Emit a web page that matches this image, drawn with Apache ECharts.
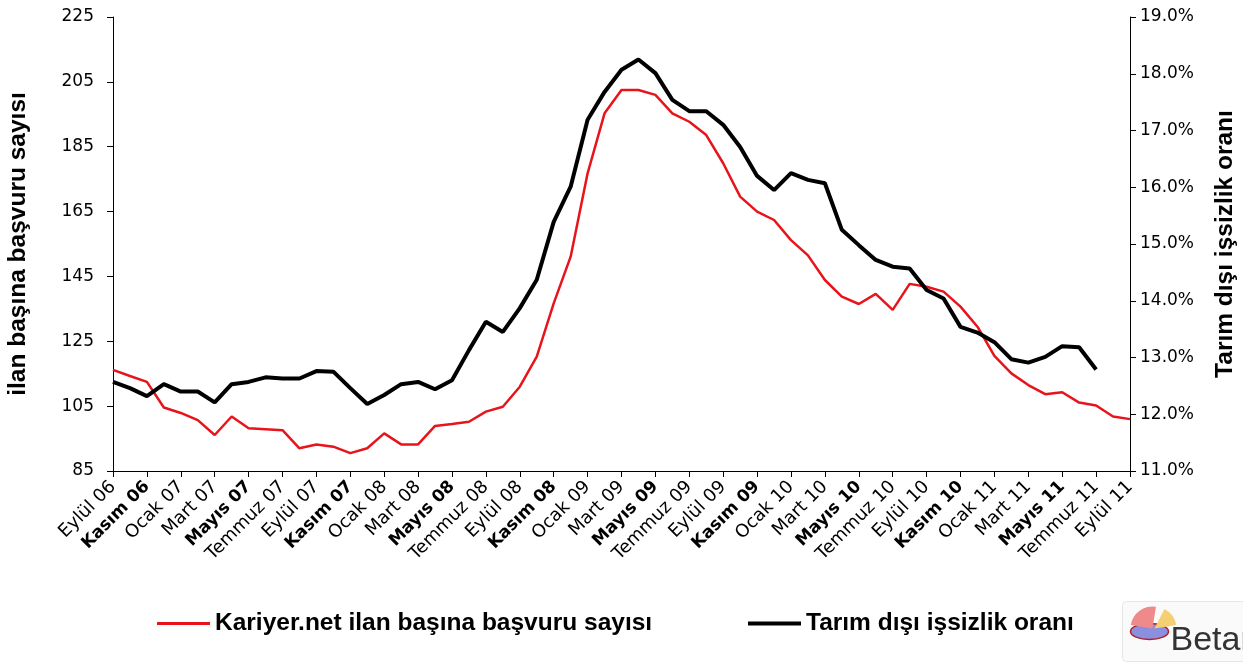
<!DOCTYPE html>
<html>
<head>
<meta charset="utf-8">
<script src="https://cdn.jsdelivr.net/npm/echarts@6/dist/echarts.min.js"></script>
<style>
  html, body { margin: 0; padding: 0; background: #fff; }
  #chart { width: 1243px; height: 662px; }
</style>
</head>
<body>
<div id="chart"></div>
<script>
// months, Eylül 06 .. Eylül 11
const months = [
    'Eylül 06', 'Ekim 06', 'Kasım 06', 'Aralık 06',
    'Ocak 07', 'Şubat 07', 'Mart 07', 'Nisan 07', 'Mayıs 07', 'Haziran 07', 'Temmuz 07', 'Ağustos 07', 'Eylül 07', 'Ekim 07', 'Kasım 07', 'Aralık 07',
    'Ocak 08', 'Şubat 08', 'Mart 08', 'Nisan 08', 'Mayıs 08', 'Haziran 08', 'Temmuz 08', 'Ağustos 08', 'Eylül 08', 'Ekim 08', 'Kasım 08', 'Aralık 08',
    'Ocak 09', 'Şubat 09', 'Mart 09', 'Nisan 09', 'Mayıs 09', 'Haziran 09', 'Temmuz 09', 'Ağustos 09', 'Eylül 09', 'Ekim 09', 'Kasım 09', 'Aralık 09',
    'Ocak 10', 'Şubat 10', 'Mart 10', 'Nisan 10', 'Mayıs 10', 'Haziran 10', 'Temmuz 10', 'Ağustos 10', 'Eylül 10', 'Ekim 10', 'Kasım 10', 'Aralık 10',
    'Ocak 11', 'Şubat 11', 'Mart 11', 'Nisan 11', 'Mayıs 11', 'Haziran 11', 'Temmuz 11', 'Ağustos 11', 'Eylül 11'
];

// Kariyer.net ilan başına başvuru sayısı (left axis)
const basvuru = [
    116.2, 114.3, 112.5, 104.6, 102.9, 100.7, 96.1, 101.8, 98.2, 97.9,
    97.6, 92.0, 93.2, 92.5, 90.5, 92.0, 96.6, 93.2, 93.2, 98.9,
    99.5, 100.2, 103.3, 104.8, 111.0, 120.3, 136.7, 151.1, 176.8, 195.3,
    202.5, 202.5, 201.0, 195.3, 192.7, 188.6, 179.9, 169.6, 165.0, 162.4,
    156.2, 151.5, 143.9, 138.8, 136.5, 139.6, 134.7, 142.7, 141.8, 140.3,
    135.7, 129.5, 120.5, 115.1, 111.5, 108.7, 109.3, 106.1, 105.2, 101.8,
    101.0
];

// Tarım dışı işsizlik oranı, % (right axis)
const issizlik = [
    12.57, 12.46, 12.32, 12.53, 12.40, 12.40, 12.21, 12.53, 12.57, 12.65,
    12.63, 12.63, 12.76, 12.75, 12.46, 12.18, 12.34, 12.53, 12.57, 12.44,
    12.60, 13.13, 13.63, 13.45, 13.87, 14.37, 15.39, 16.01, 17.19, 17.68,
    18.07, 18.25, 18.01, 17.54, 17.34, 17.34, 17.10, 16.71, 16.20, 15.95,
    16.25, 16.13, 16.07, 15.25, 14.98, 14.72, 14.60, 14.57, 14.19, 14.04,
    13.54, 13.44, 13.27, 12.97, 12.91, 13.01, 13.20, 13.18, 12.79, null,
    null
];

const boldMonths = ['Kasım', 'Mayıs'];

const chart = echarts.init(document.getElementById('chart'));
const tickFont = "'DejaVu Sans', sans-serif";
const boldFont = "'Liberation Sans', Arial, sans-serif";

const option = {
    backgroundColor: '#fff',
    animation: false,
    grid: { left: 113, right: 113, top: 17, bottom: 191, outerBoundsMode: 'none' },
    legend: [
        {
            data: ['Kariyer.net ilan başına başvuru sayısı'],
            left: 152, top: 606,
            itemWidth: 53, itemHeight: 3, icon: 'rect',
            textStyle: { fontFamily: boldFont, fontWeight: 'bold', fontSize: 24.5, color: '#000' }
        },
        {
            data: ['Tarım dışı işsizlik oranı'],
            left: 743, top: 606,
            itemWidth: 53, itemHeight: 4, icon: 'rect',
            textStyle: { fontFamily: boldFont, fontWeight: 'bold', fontSize: 24.5, color: '#000' }
        }
    ],
    xAxis: {
        type: 'category',
        data: months,
        boundaryGap: false,
        axisLine: { lineStyle: { color: '#000', width: 1 } },
        axisTick: { interval: 1, length: 6, lineStyle: { color: '#000' } },
        axisLabel: {
            interval: 1,
            rotate: 45,
            margin: 13,
            color: '#000',
            fontFamily: tickFont,
            fontSize: 18,
            formatter: function (v) {
                return boldMonths.some(m => v.indexOf(m) === 0) ? '{b|' + v + '}' : v;
            },
            rich: {
                b: { fontWeight: 'bold', fontFamily: tickFont, fontSize: 17, color: '#000' }
            }
        }
    },
    yAxis: [
        {
            type: 'value',
            min: 85, max: 225, interval: 20,
            name: 'ilan başına başvuru sayısı',
            nameLocation: 'middle',
            nameRotate: 90,
            nameGap: 82,
            nameTextStyle: { fontFamily: boldFont, fontWeight: 'bold', fontSize: 24.5, color: '#000' },
            axisLine: { show: true, lineStyle: { color: '#000', width: 1 } },
            axisTick: { show: true, length: 6, lineStyle: { color: '#000' } },
            splitLine: { show: false },
            axisLabel: { color: '#000', fontFamily: tickFont, fontSize: 17, margin: 19 }
        },
        {
            type: 'value',
            min: 11, max: 19, interval: 1,
            position: 'right',
            name: 'Tarım dışı işsizlik oranı',
            nameLocation: 'middle',
            nameRotate: 90,
            nameGap: 83,
            nameTextStyle: { fontFamily: boldFont, fontWeight: 'bold', fontSize: 24.5, color: '#000' },
            axisLine: { show: true, lineStyle: { color: '#000', width: 1 } },
            axisTick: { show: true, length: 6, lineStyle: { color: '#000' } },
            splitLine: { show: false },
            axisLabel: {
                color: '#000', fontFamily: tickFont, fontSize: 17, margin: 10,
                formatter: v => v.toFixed(1) + '%'
            }
        }
    ],
    series: [
        {
            name: 'Kariyer.net ilan başına başvuru sayısı',
            type: 'line',
            yAxisIndex: 0,
            data: basvuru,
            showSymbol: false,
            symbol: 'none',
            lineStyle: { color: '#e8141b', width: 2.5 },
            itemStyle: { color: '#e8141b' }
        },
        {
            name: 'Tarım dışı işsizlik oranı',
            type: 'line',
            yAxisIndex: 1,
            data: issizlik,
            showSymbol: false,
            symbol: 'none',
            lineStyle: { color: '#000', width: 4 },
            itemStyle: { color: '#000' }
        }
    ],
    graphic: [
        {
            type: 'group',
            left: 1122, top: 601,
            children: [
                { type: 'rect', shape: { x: 0, y: 0, width: 130, height: 60, r: 4 },
                  style: { fill: '#fafafa', stroke: '#e6e6e6', lineWidth: 1 } },
                { type: 'ellipse', shape: { cx: 27, cy: 30, rx: 19, ry: 8 },
                  style: { fill: '#8a8fe0', stroke: '#b0202a', lineWidth: 1.5 } },
                { type: 'sector', shape: { cx: 30, cy: 27, r: 22, r0: 0, startAngle: Math.PI * 1.05, endAngle: Math.PI * 1.55 },
                  style: { fill: '#ee8a8a' } },
                { type: 'sector', shape: { cx: 32, cy: 27, r: 22, r0: 0, startAngle: Math.PI * 1.65, endAngle: Math.PI * 1.95 },
                  style: { fill: '#f5cf74' } },
                { type: 'text', style: { x: 48, y: 22, text: 'Betam', fill: '#333',
                  font: "34px 'Liberation Sans Narrow', 'Liberation Sans', sans-serif" } }
            ]
        }
    ]
};

chart.setOption(option);

window.addEventListener('resize', () => {
    chart.resize();
});
</script>
</body>
</html>
